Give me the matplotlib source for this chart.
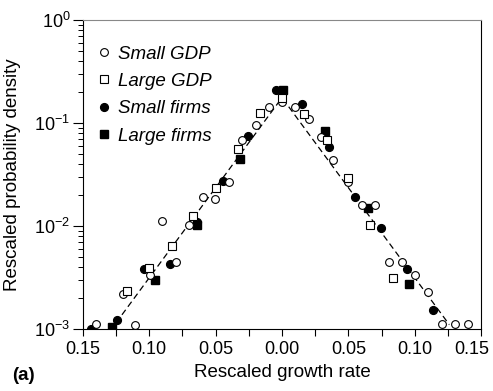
import numpy as np
import matplotlib
matplotlib.use('Agg')
import matplotlib.pyplot as plt
import matplotlib.transforms as mtransforms
from matplotlib.ticker import FixedLocator, FuncFormatter, LogLocator

plt.rcParams['font.family'] = ['Liberation Sans', 'DejaVu Sans']
plt.rcParams['mathtext.fontset'] = 'custom'
plt.rcParams['mathtext.rm'] = 'Liberation Sans'

# Small GDP (open circles)
gdp_small_x = [-0.140, -0.1105, -0.120, -0.0997, -0.0796, -0.090, -0.0702, -0.0598, -0.0501,
               -0.0397, -0.0301, -0.0196, -0.0097, 0.000, 0.010, 0.020, 0.0294, 0.0381,
               0.0497, 0.0602, 0.070, 0.0803, 0.0904, 0.100, 0.110, 0.1205, 0.130, 0.140]
gdp_small_y = [1.12e-3, 1.10e-3, 2.2e-3, 3.37e-3, 4.45e-3, 0.0112, 0.0101, 0.0191, 0.0182,
               0.0265, 0.0688, 0.0947, 0.143, 0.159, 0.143, 0.110, 0.0724, 0.044,
               0.0269, 0.0158, 0.0158, 4.5e-3, 4.5e-3, 3.34e-3, 2.27e-3, 1.12e-3, 1.12e-3, 1.12e-3]

# Large GDP (open squares)
gdp_large_x = [-0.1167, -0.0999, -0.0831, -0.0668, -0.0497, -0.0331, -0.0166, 0.000,
               0.0166, 0.0336, 0.0497, 0.0666, 0.0836]
gdp_large_y = [2.35e-3, 3.94e-3, 6.37e-3, 0.0126, 0.0232, 0.0558, 0.124, 0.173,
               0.123, 0.0688, 0.0289, 0.0103, 3.15e-3]

# Small firms (filled circles)
firm_small_x = [-0.1438, -0.124, -0.1042, -0.0843, -0.0643, -0.0442, -0.0254, -0.0047,
                0.0151, 0.0351, 0.0547, 0.0746, 0.0944, 0.1137]
firm_small_y = [1.0e-3, 1.22e-3, 3.83e-3, 4.31e-3, 0.011, 0.0273, 0.0752, 0.207,
                0.154, 0.058, 0.0191, 9.5e-3, 3.8e-3, 1.53e-3]

# Large firms (filled squares)
firm_large_x = [-0.128, -0.0956, -0.0638, -0.0319, 0.0005, 0.0326, 0.0645, 0.0959]
firm_large_y = [1.04e-3, 2.99e-3, 0.0101, 0.0447, 0.207, 0.0828, 0.015, 2.71e-3]

# fitted tent (Laplace) line
peak = 0.176
decades_per_unit = 17.5
fit_x = np.linspace(-0.125, 0.126, 201)
fit_y = peak * 10 ** (-decades_per_unit * np.abs(fit_x))

fig = plt.figure(figsize=(4.93, 3.91), dpi=100)
ax = fig.add_axes([0.168, 0.159, 0.808, 0.79])

ax.plot(fit_x, fit_y, color='black', linestyle=(0, (5, 3)), linewidth=0.9, zorder=1)

ms = 5.6
ax.plot(gdp_small_x, gdp_small_y, 'o', mfc='white', mec='black', mew=0.8, ms=ms,
        linestyle='none', label='Small GDP', zorder=3)
ax.plot(gdp_large_x, gdp_large_y, 's', mfc='white', mec='black', mew=0.8, ms=ms - 0.4,
        linestyle='none', label='Large GDP', zorder=3)
ax.plot(firm_small_x, firm_small_y, 'o', mfc='black', mec='black', ms=ms,
        linestyle='none', label='Small firms', zorder=2)
ax.plot(firm_large_x, firm_large_y, 's', mfc='black', mec='black', ms=ms - 0.4,
        linestyle='none', label='Large firms', zorder=2)

ax.set_yscale('log')
ax.set_ylim(1e-3, 1)
ax.set_xlim(-0.15, 0.15)

ax.xaxis.set_major_locator(FixedLocator([-0.15, -0.10, -0.05, 0.0, 0.05, 0.10, 0.15]))
ax.xaxis.set_minor_locator(FixedLocator([-0.125, -0.075, -0.025, 0.025, 0.075, 0.125]))
ax.xaxis.set_major_formatter(FuncFormatter(lambda v, p: '%.2f' % abs(v)))
ax.yaxis.set_major_locator(LogLocator(base=10, numticks=10))
ax.yaxis.set_minor_locator(LogLocator(base=10, subs=np.arange(2, 10), numticks=10))
ax.yaxis.set_major_formatter(FuncFormatter(lambda v, p: r'$10^{%d}$' % round(np.log10(v))))

ax.tick_params(axis='x', which='both', direction='out', length=5, width=0.8, labelsize=13, pad=4)
ax.tick_params(axis='y', which='major', direction='out', length=7, width=0.8, labelsize=13, pad=2)
ax.tick_params(axis='y', which='minor', direction='out', length=3.5, width=0.7)

for s in ax.spines.values():
    s.set_linewidth(0.8)
ax.spines['top'].set_color('#888888')

ax.set_xlabel('Rescaled growth rate', fontsize=13.5, labelpad=4)
ax.set_ylabel('Rescaled probability density', fontsize=13.5)
ax.yaxis.set_label_coords(-0.155, 0.5)

# the last x tick label sits a bit to the left so it stays inside the figure
fig.canvas.draw()
last = ax.get_xticklabels()[-1]
last.set_transform(last.get_transform() + mtransforms.ScaledTranslation(-9 / 100, 0, fig.dpi_scale_trans))

leg = ax.legend(loc='upper left', bbox_to_anchor=(0.005, 0.96), frameon=False,
                prop={'style': 'italic', 'size': 13.5}, handlelength=0.6,
                handletextpad=0.45, labelspacing=0.55, borderaxespad=0.3)

fig.text(0.025, 0.028, '(a)', fontsize=13.5, fontweight='bold')

fig.savefig('out.png', dpi=100)
